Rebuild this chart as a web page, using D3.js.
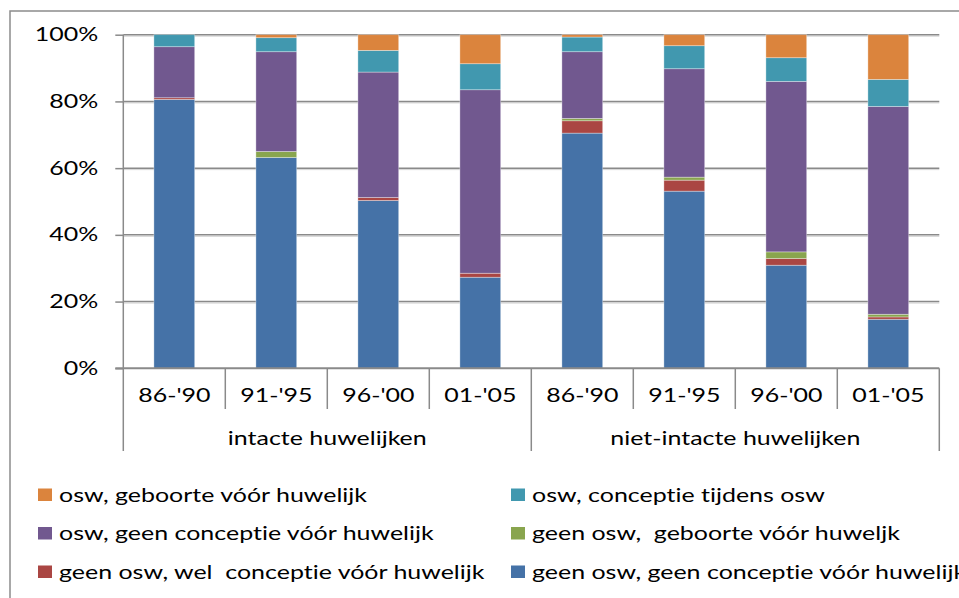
<!DOCTYPE html>
<html>
<head>
<meta charset="utf-8">
<script src="https://cdn.jsdelivr.net/npm/d3@7"></script>
<style>
  html, body { margin: 0; padding: 0; background: #fff; overflow: hidden; }
  text { font-family: Lato, "Open Sans", sans-serif; fill: #000; white-space: pre; font-variant-ligatures: none; font-feature-settings: "liga" 0; }
</style>
</head>
<body>
<div class="chart"></div>
<script>
// periods inside each group, and the two groups
const periods = ["86-'90", "91-'95", "96-'00", "01-'05"];
const groups = ["intacte huwelijken", "niet-intacte huwelijken"];

// percentages per bar (4 intact, then 4 niet-intact), bottom to top of stack
const geenGeen = [80.6, 63.2, 50.3, 27.3, 70.5, 53.1, 30.9, 14.7];
const geenWel = [0.5, 0, 0.9, 1.2, 3.7, 3.3, 2.0, 0.7];
const geenGeboorte = [0, 1.8, 0, 0, 0.7, 0.9, 2.0, 0.8];
const oswGeen = [15.3, 29.9, 37.6, 55.0, 20.0, 32.5, 51.1, 62.3];
const oswTijdens = [3.6, 4.2, 6.5, 7.8, 4.4, 6.9, 7.1, 8.1];
const oswGeboorte = [0, 0.9, 4.7, 8.7, 0.7, 3.3, 6.9, 13.4];

const yTicks = [0, 20, 40, 60, 80, 100];

const series = [
  { key: "geenGeen", label: "geen osw, geen conceptie vóór huwelijk", color: "#4572A7", values: geenGeen },
  { key: "geenWel", label: "geen osw, wel  conceptie vóór huwelijk", color: "#AA4643", values: geenWel },
  { key: "geenGeboorte", label: "geen osw,  geboorte vóór huweljk", color: "#89A54E", values: geenGeboorte },
  { key: "oswGeen", label: "osw, geen conceptie vóór huwelijk", color: "#71588F", values: oswGeen },
  { key: "oswTijdens", label: "osw, conceptie tijdens osw", color: "#4198AF", values: oswTijdens },
  { key: "oswGeboorte", label: "osw, geboorte vóór huwelijk", color: "#DB843D", values: oswGeboorte }
];
// legend order: reading left-right, top-bottom
const legendOrder = ["oswGeboorte", "oswTijdens", "oswGeen", "geenGeboorte", "geenWel", "geenGeen"];

const width = 959, height = 598;
const plotLeft = 123.3, plotRight = 939.3, plotTop = 34.7, plotBottom = 368.3;

const keys = [];
groups.forEach(function (g) { periods.forEach(function (p) { keys.push(g + "|" + p); }); });

const rows = keys.map(function (k, i) {
  const r = { key: k };
  series.forEach(function (s) { r[s.key] = s.values[i]; });
  return r;
});

const x = d3.scaleBand().domain(keys).range([plotLeft, plotRight]).paddingInner(0.6).paddingOuter(0.3);
const y = d3.scaleLinear().domain([0, 100]).range([plotBottom, plotTop]);
const grid = "#8a8a8a";

const svg = d3.select(".chart").append("svg")
  .attr("width", width)
  .attr("height", height);

// chart frame
svg.append("rect")
  .attr("x", 10).attr("y", 11)
  .attr("width", 980).attr("height", 620)
  .attr("fill", "none").attr("stroke", "#8c8c8c").attr("stroke-width", 1.5);

// gridlines with a soft shadow
yTicks.filter(function (t) { return t > 0; }).forEach(function (t) {
  svg.append("line")
    .attr("x1", plotLeft).attr("x2", plotRight)
    .attr("y1", y(t) + 1.5).attr("y2", y(t) + 1.5)
    .attr("stroke", "#d4d4d4").attr("stroke-width", 1);
  svg.append("line")
    .attr("x1", plotLeft).attr("x2", plotRight)
    .attr("y1", y(t)).attr("y2", y(t))
    .attr("stroke", grid).attr("stroke-width", 1.5);
});

// stacked bars
const stack = d3.stack().keys(series.map(function (s) { return s.key; }));
const layers = stack(rows);

svg.selectAll(".layer")
  .data(layers)
  .enter().append("g")
  .attr("class", "layer")
  .attr("fill", function (d, i) { return series[i].color; })
  .selectAll("rect")
  .data(function (d) { return d.filter(function (v) { return v[1] - v[0] > 0; }); })
  .enter().append("rect")
  .attr("x", function (d) { return x(d.data.key); })
  .attr("width", x.bandwidth())
  .attr("y", function (d) { return y(d[1]); })
  .attr("height", function (d) { return y(d[0]) - y(d[1]); })
  .attr("stroke", "rgba(255,255,255,0.45)")
  .attr("stroke-width", 0.75);

// y axis
const yAxis = svg.append("g")
  .attr("transform", "translate(" + plotLeft + ",0)")
  .call(d3.axisLeft(y).tickValues(yTicks).tickSize(8).tickPadding(17)
    .tickFormat(function (d) { return d + "%"; }));
yAxis.select(".domain").remove();
yAxis.selectAll(".tick line").attr("stroke", grid).attr("stroke-width", 1.5);
yAxis.selectAll("text").attr("font-size", 19).attr("font-family", null);

// category axis
const xAxis = svg.append("g")
  .attr("transform", "translate(0," + plotBottom + ")")
  .call(d3.axisBottom(x).tickSize(0).tickPadding(20)
    .tickFormat(function (d) { return d.split("|")[1]; }));
xAxis.select(".domain").remove();
xAxis.selectAll("text").attr("font-size", 19).attr("font-family", null).attr("dy", "0.71em");

// separators below the axis
const step = x.step();
d3.range(keys.length + 1).forEach(function (i) {
  const xx = plotLeft + i * step;
  const isGroupEdge = i % periods.length === 0;
  svg.append("line")
    .attr("x1", xx).attr("x2", xx)
    .attr("y1", isGroupEdge && i === 0 ? plotTop : plotBottom)
    .attr("y2", isGroupEdge ? 451 : 409)
    .attr("stroke", grid).attr("stroke-width", 1.5);
});

// group labels
groups.forEach(function (g, gi) {
  const x0 = plotLeft + gi * periods.length * step;
  svg.append("text")
    .attr("class", "lbl")
    .attr("x", x0 + periods.length * step / 2)
    .attr("y", 438)
    .attr("dy", "0.35em")
    .attr("text-anchor", "middle")
    .attr("font-size", 19)
    .text(g);
});

// zero line
svg.append("line")
  .attr("x1", plotLeft - 8).attr("x2", plotRight)
  .attr("y1", plotBottom).attr("y2", plotBottom)
  .attr("stroke", grid).attr("stroke-width", 2);

// legend
const legend = svg.append("g");
legendOrder.forEach(function (k, i) {
  const s = series.find(function (d) { return d.key === k; });
  const col = i % 2, row = Math.floor(i / 2);
  const lx = col === 0 ? 38 : 511;
  const ly = 495 + row * 38.5;
  legend.append("rect")
    .attr("x", lx).attr("y", ly - 6.5)
    .attr("width", 14).attr("height", 12.5)
    .attr("fill", s.color);
  legend.append("text")
    .attr("class", "leg")
    .attr("x", lx + 21).attr("y", ly)
    .attr("dy", "0.35em")
    .attr("font-size", 19)
    .text(s.label);
});

// stretch text horizontally like the source picture
const ref = legend.select("text.leg").node();
const k = 308 / ref.getComputedTextLength();
svg.selectAll("text").each(function () {
  const w = this.getComputedTextLength();
  d3.select(this).attr("textLength", w * k).attr("lengthAdjust", "spacingAndGlyphs");
});
</script>
</body>
</html>
